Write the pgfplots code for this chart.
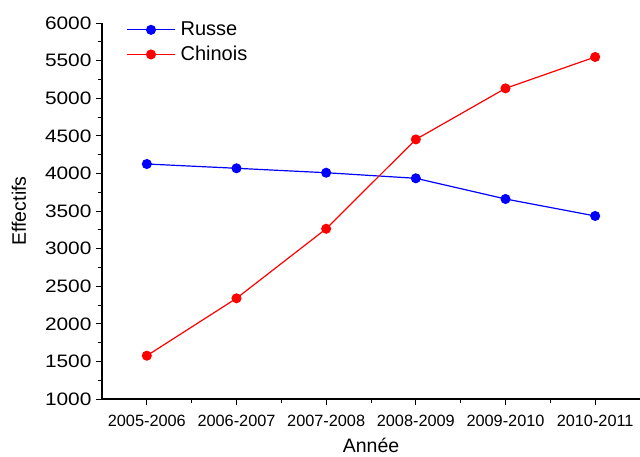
\documentclass[border=0pt]{standalone}
\usepackage{pgfplots}
\pgfplotsset{compat=1.18}
\usepackage{fontspec}
\setmainfont{Liberation Sans}
\newfontfamily\tickfont[FakeStretch=1.16]{Liberation Sans}

\begin{document}
\begin{tikzpicture}
\begin{axis}[
    name=ax,
    scale only axis,
    width=538pt,
    height=376pt,
    xmin=-0.5, xmax=5.5,
    ymin=1000, ymax=6000,
    axis lines=left,
    axis line style={-, line width=1.1pt},
    xtick={0,1,2,3,4,5},
    xticklabels={2005-2006,2006-2007,2007-2008,2008-2009,2009-2010,2010-2011},
    minor xtick={0.5,1.5,2.5,3.5,4.5},
    ytick={1000,1500,...,6000},
    minor y tick num=1,
    tick align=outside,
    major tick length=6pt,
    minor tick length=4pt,
    tick style={black, line width=1pt},
    /pgf/number format/assume math mode=true,
    /pgf/number format/1000 sep={},
    scaled y ticks=false,
    yticklabel style={font=\tickfont\fontsize{18}{20}\selectfont, anchor=east, xshift=-1pt},
    xticklabel style={font=\fontsize{16.3}{18}\selectfont, anchor=center, yshift=-16pt},
    every axis x label/.style={at={(axis description cs:0.5,0)}, anchor=center, yshift=-46pt},
    every axis y label/.style={at={(axis description cs:0,0.5)}, anchor=center, rotate=90, yshift=83pt},
    xlabel={Année},
    ylabel={Effectifs},
    label style={font=\fontsize{19.5}{21}\selectfont},
    legend style={at={(0.045,1.0)}, anchor=north west, yshift=3pt, draw=none, fill=none,
        font=\fontsize{20}{22}\selectfont, row sep=5pt, inner sep=0pt,
        /tikz/every odd column/.append style={column sep=3pt}},
    legend cell align=left,
    legend image code/.code={
        \draw[#1, mark repeat=2, mark phase=2] plot coordinates {(0pt,0pt) (24pt,0pt) (48pt,0pt)};
    },
]
\addplot[blue, line width=1.2pt, mark=*, mark size=4.4pt] coordinates {
    (0,4125) (1,4068) (2,4009) (3,3935) (4,3660) (5,3434)
};
\addlegendentry{Russe}
\addplot[red, line width=1.2pt, mark=*, mark size=4.4pt] coordinates {
    (0,1576) (1,2339) (2,3264) (3,4452) (4,5131) (5,5548)
};
\addlegendentry{Chinois}
\end{axis}
\pgfresetboundingbox
\path ([xshift=-102pt,yshift=-57pt]ax.south west) rectangle ([yshift=23pt]ax.north east);
\end{tikzpicture}
\end{document}
